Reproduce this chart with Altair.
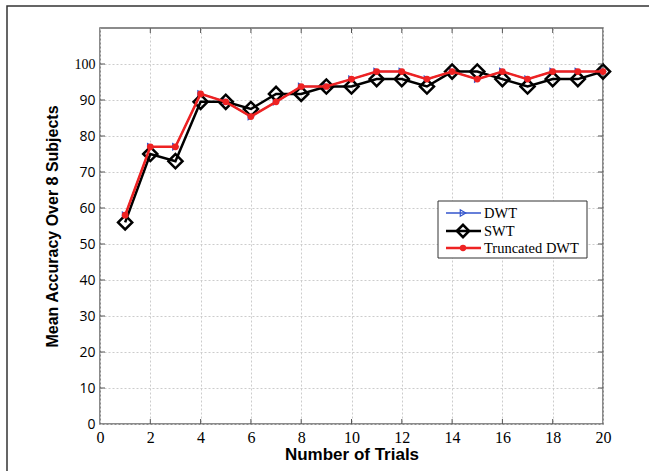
import altair as alt
import pandas as pd

trials = list(range(1, 21))
dwt = [58, 77, 77, 91.7, 89.5, 85.4, 89.5, 93.75, 93.75, 95.8, 97.9, 97.9, 95.8, 97.9, 95.8, 97.9, 95.8, 97.9, 97.9, 97.9]
swt = [56, 75, 73, 89.5, 89.5, 87.5, 91.7, 91.7, 93.75, 93.75, 95.8, 95.8, 93.75, 97.9, 97.9, 95.8, 93.75, 95.8, 95.8, 97.9]
trunc = [58, 77, 77, 91.7, 89.5, 85.4, 89.5, 93.75, 93.75, 95.8, 97.9, 97.9, 95.8, 97.9, 95.8, 97.9, 95.8, 97.9, 97.9, 97.9]
series_names = ["DWT", "SWT", "Truncated DWT"]
series_colors = ["#3355cc", "#000000", "#ee2222"]
x_ticks = list(range(0, 21, 2))
y_ticks = list(range(0, 101, 10))

W, H = 503, 396

def frame(name, vals):
    return pd.DataFrame({"trial": trials, "acc": vals, "series": name})

xs = alt.Scale(domain=[0, 20], nice=False, zero=False)
ys = alt.Scale(domain=[0, 110], nice=False)

x_axis = alt.Axis(values=x_ticks, title="Number of Trials", grid=True,
                  gridColor="#cccccc", gridDash=[2, 2], gridWidth=1,
                  tickSize=0, domain=False, labelFont="Liberation Serif",
                  labelFontSize=16, labelColor="#000", labelPadding=5,
                  labelOverlap=False, labelFlush=False,
                  titleFont="Liberation Sans", titleFontSize=17, titleFontWeight="bold",
                  titleColor="#000", titlePadding=1)
y_axis = alt.Axis(values=y_ticks, title="Mean Accuracy Over 8 Subjects", grid=True,
                  gridColor="#cccccc", gridDash=[2, 2], gridWidth=1,
                  tickSize=0, domain=False, labelOverlap=False, labelFlush=False,
                  labelFont={"condition": {"test": "datum.value == 100", "value": "Liberation Serif"}, "value": "Open Sans"},
                  labelFontSize=14, labelColor="#000", labelPadding=5,
                  titleFont="Liberation Sans", titleFontSize=16, titleFontWeight="bold",
                  titleColor="#000", titlePadding=14)
X = alt.X("trial:Q", scale=xs, axis=x_axis)
Y = alt.Y("acc:Q", scale=ys, axis=y_axis)

base_dwt = alt.Chart(frame("DWT", dwt))
base_swt = alt.Chart(frame("SWT", swt))
base_tr = alt.Chart(frame("Truncated DWT", trunc))

dwt_line = base_dwt.mark_line(color=series_colors[0], strokeWidth=1.5).encode(x=X, y=Y)
dwt_pts = base_dwt.mark_point(shape="triangle-right", color=series_colors[0], size=40, strokeWidth=1.2, opacity=1).encode(x=X, y=Y)
swt_line = base_swt.mark_line(color=series_colors[1], strokeWidth=2.5).encode(x=X, y=Y)
swt_pts = base_swt.mark_point(shape="diamond", color=series_colors[1], filled=False, size=200, strokeWidth=2.5, opacity=1).encode(x=X, y=Y)
tr_line = base_tr.mark_line(color=series_colors[2], strokeWidth=2.5).encode(x=X, y=Y)
tr_pts = base_tr.mark_point(shape="circle", color=series_colors[2], filled=True, size=45, opacity=1).encode(x=X, y=Y)

# inward ticks on all four sides
xt = alt.Chart(pd.DataFrame({"v": x_ticks[1:-1]}))
yt = alt.Chart(pd.DataFrame({"v": y_ticks[1:]}))
tick_style = dict(color="#555555", strokeWidth=1)
XV = alt.X("v:Q", scale=xs, axis=x_axis)
YV = alt.Y("v:Q", scale=ys, axis=y_axis)
xb = xt.mark_rule(**tick_style).encode(x=XV, y=alt.value(H), y2=alt.value(H - 5))
xtop = xt.mark_rule(**tick_style).encode(x=XV, y=alt.value(0), y2=alt.value(5))
yl = yt.mark_rule(**tick_style).encode(y=YV, x=alt.value(0), x2=alt.value(5))
yr = yt.mark_rule(**tick_style).encode(y=YV, x=alt.value(W), x2=alt.value(W - 5))

# outer figure frame
outer = alt.Chart(pd.DataFrame({"a": [0]})).mark_rect(fill=None, stroke="#333333", strokeWidth=1.5).encode(
    x=alt.value(-93), x2=alt.value(W + 200), y=alt.value(-22), y2=alt.value(H + 200))

# legend
lx0, lx1, ly0, ly1 = 338, 487, 173, 230
leg_y = [185, 203, 220]
leg_box = alt.Chart(pd.DataFrame({"a": [0]})).mark_rect(fill="white", stroke="#333333", strokeWidth=1).encode(
    x=alt.value(lx0), x2=alt.value(lx1), y=alt.value(ly0), y2=alt.value(ly1))
leg_layers = [leg_box]
leg_marks = [
    dict(shape="triangle-right", filled=False, size=40, strokeWidth=1.2, lw=1.5),
    dict(shape="diamond", filled=False, size=150, strokeWidth=2.5, lw=2.5),
    dict(shape="circle", filled=True, size=40, strokeWidth=1, lw=2.5),
]
for i, name in enumerate(series_names):
    c = series_colors[i]
    m = leg_marks[i]
    d = alt.Chart(pd.DataFrame({"name": [name]}))
    leg_layers.append(d.mark_rule(color=c, strokeWidth=m["lw"]).encode(
        x=alt.value(346), x2=alt.value(381), y=alt.value(leg_y[i])))
    leg_layers.append(d.mark_point(shape=m["shape"], filled=m["filled"], color=c, size=m["size"],
                                   strokeWidth=m["strokeWidth"], opacity=1).encode(
        x=alt.value(363), y=alt.value(leg_y[i])))
    leg_layers.append(d.mark_text(align="left", baseline="middle", font="Liberation Serif",
                                  fontSize=14.5, color="#000").encode(
        x=alt.value(384), y=alt.value(leg_y[i] + 1), text="name:N"))

chart = alt.layer(
    outer, dwt_line, dwt_pts, swt_line, swt_pts, tr_line, tr_pts, xb, xtop, yl, yr, *leg_layers
).properties(
    width=W, height=H,
    autosize=alt.AutoSizeParams(type="none"),
    padding={"left": 100, "top": 28, "right": 649 - 100 - W, "bottom": 471 - 28 - H},
    background="white",
).configure_view(stroke="#666666", strokeWidth=1.5)

chart.save("out.html", embed_options={"renderer": "svg", "actions": False})
